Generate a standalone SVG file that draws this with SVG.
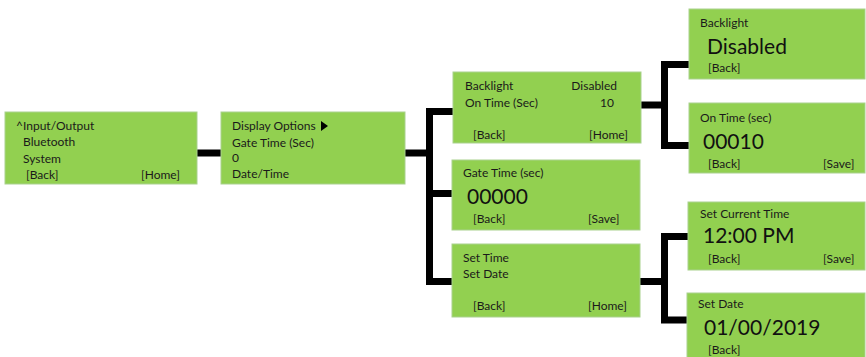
<svg xmlns="http://www.w3.org/2000/svg" width="866" height="357" viewBox="0 0 866 357">
<style>
.box{fill:#92D050;stroke:#A9D18E;stroke-width:1}
.t{font-family:Lato,"Liberation Sans",sans-serif;font-size:12px;fill:#1a1a1a}
.big{font-family:Lato,"Liberation Sans",sans-serif;font-size:21px;fill:#111}
.c{fill:none;stroke:#000;stroke-width:7}
</style>
<rect width="866" height="357" fill="#fff"/>
<g id="connectors">
<path class="c" d="M196,153 H222"/>
<path class="c" d="M405,153 H429.5"/>
<path class="c" d="M453,111.5 H429.5 V281.5 H453"/>
<path class="c" d="M429.5,193.5 H453"/>
<path class="c" d="M640,105 H664.5"/>
<path class="c" d="M689,64.5 H664.5 V145.5 H689"/>
<path class="c" d="M640,281.5 H664.5"/>
<path class="c" d="M688,236.5 H664.5 V320 H688"/>
</g>
<g id="main-menu">
<rect class="box" x="5" y="112" width="192" height="72"/>
<text class="t" x="16" y="130">^Input/Output</text>
<text class="t" x="23" y="146">Bluetooth</text>
<text class="t" x="23" y="163">System</text>
<text class="t" x="26" y="179">[Back]</text>
<text class="t" x="141" y="179">[Home]</text>
</g>
<g id="display-options">
<rect class="box" x="221" y="112" width="184" height="72"/>
<text class="t" x="232" y="130">Display Options</text>
<polygon points="321,121 328,126 321,131" fill="#000"/>
<text class="t" x="232" y="147">Gate Time (Sec)</text>
<text class="t" x="232" y="162">0</text>
<text class="t" x="232" y="178">Date/Time</text>
</g>
<g id="backlight-menu">
<rect class="box" x="453" y="72" width="188" height="71"/>
<text class="t" x="465" y="90">Backlight</text>
<text class="t" x="617" y="90" text-anchor="end">Disabled</text>
<text class="t" x="465" y="107">On Time (Sec)</text>
<text class="t" x="614" y="107" text-anchor="end">10</text>
<text class="t" x="473" y="139">[Back]</text>
<text class="t" x="589" y="139">[Home]</text>
</g>
<g id="gate-time">
<rect class="box" x="452" y="160" width="188" height="70"/>
<text class="t" x="463" y="177">Gate Time (sec)</text>
<text class="big" x="467" y="204">00000</text>
<text class="t" x="473" y="223">[Back]</text>
<text class="t" x="588" y="223">[Save]</text>
</g>
<g id="date-time-menu">
<rect class="box" x="452" y="244" width="188" height="73"/>
<text class="t" x="463" y="262">Set Time</text>
<text class="t" x="463" y="278">Set Date</text>
<text class="t" x="473" y="310">[Back]</text>
<text class="t" x="588" y="310">[Home]</text>
</g>
<g id="backlight-setting">
<rect class="box" x="689" y="9" width="176" height="70"/>
<text class="t" x="700" y="27">Backlight</text>
<text class="big" x="707" y="54">Disabled</text>
<text class="t" x="708" y="72">[Back]</text>
</g>
<g id="on-time-setting">
<rect class="box" x="689" y="103" width="176" height="70"/>
<text class="t" x="700" y="122">On Time (sec)</text>
<text class="big" x="703" y="149">00010</text>
<text class="t" x="708" y="168">[Back]</text>
<text class="t" x="823" y="168">[Save]</text>
</g>
<g id="set-time">
<rect class="box" x="688" y="202" width="177" height="68"/>
<text class="t" x="700" y="218">Set Current Time</text>
<text class="big" x="703" y="243">12:00 PM</text>
<text class="t" x="708" y="263">[Back]</text>
<text class="t" x="823" y="263">[Save]</text>
</g>
<g id="set-date">
<rect class="box" x="687" y="293" width="178" height="70"/>
<text class="t" x="698" y="308">Set Date</text>
<text class="big" x="704" y="335">01/00/2019</text>
<text class="t" x="708" y="354">[Back]</text>
</g>
</svg>
